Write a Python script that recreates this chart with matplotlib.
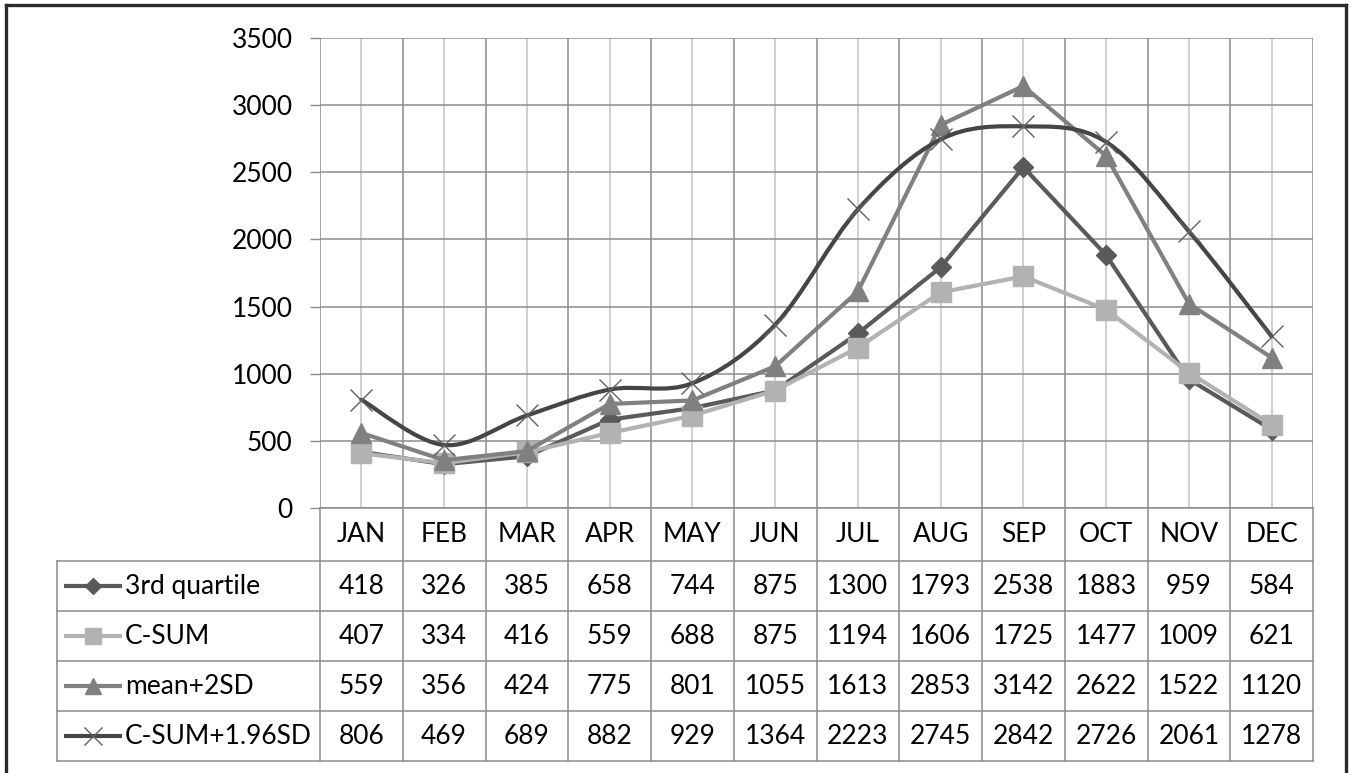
import matplotlib
matplotlib.use("Agg")
import matplotlib.pyplot as plt
from matplotlib.path import Path
from matplotlib.patches import PathPatch
from matplotlib.lines import Line2D
import numpy as np

plt.rcParams['font.family'] = ['Lato', 'DejaVu Sans']

months = ["JAN", "FEB", "MAR", "APR", "MAY", "JUN",
          "JUL", "AUG", "SEP", "OCT", "NOV", "DEC"]
third_quartile = [418, 326, 385, 658, 744, 875, 1300, 1793, 2538, 1883, 959, 584]
c_sum = [407, 334, 416, 559, 688, 875, 1194, 1606, 1725, 1477, 1009, 621]
mean_2sd = [559, 356, 424, 775, 801, 1055, 1613, 2853, 3142, 2622, 1522, 1120]
c_sum_196sd = [806, 469, 689, 882, 929, 1364, 2223, 2745, 2842, 2726, 2061, 1278]
series_names = ["3rd quartile", "C-SUM", "mean+2SD", "C-SUM+1.96SD"]
y_ticks = [0, 500, 1000, 1500, 2000, 2500, 3000, 3500]

W, H = 1349, 773
fig = plt.figure(figsize=(W / 100, H / 100), dpi=100)
fig.patch.set_facecolor("white")


def fx(px):
    return px / W


def fy(py):
    return 1 - py / H


PL, PR, PT, PB = 320, 1313, 38, 508
TB = 761
cat_w = (PR - PL) / 12.0
FS = 19

ax = fig.add_axes([fx(PL), fy(PB), (PR - PL) / W, (PB - PT) / H])
ax.set_xlim(-0.5, 11.5)
ax.set_ylim(0, 3500)
for s in ax.spines.values():
    s.set_visible(False)
ax.set_xticks([])
ax.set_yticks(y_ticks)
ax.set_yticklabels([str(v) for v in y_ticks], fontsize=FS)
ax.tick_params(axis="y", length=7.2, width=1, color="#8c8c8c", pad=12.5)
ax.yaxis.grid(True, color="#8c8c8c", lw=1.1)
ax.set_axisbelow(True)

x = np.arange(12)
# category boundaries (darker) and category centres (lighter)
for k in range(13):
    ax.axvline(k - 0.5, color="#8c8c8c", lw=1.1, zorder=0.5)
for k in range(12):
    ax.axvline(k, color="#c4c4c4", lw=1.1, zorder=0.4)

styles = [
    dict(color="#5a5a5a", marker="D", ms=10, mfc="#5a5a5a", mec="#5a5a5a", mew=1),
    dict(color="#b2b2b2", marker="s", ms=15, mfc="#b2b2b2", mec="#b2b2b2", mew=1),
    dict(color="#808080", marker="^", ms=15, mfc="#808080", mec="#808080", mew=1),
    dict(color="#454545", marker="x", ms=16, mfc="none", mec="#606060", mew=1.0),
]
data = [third_quartile, c_sum, mean_2sd, c_sum_196sd]


def smooth_path(xs, ys, t=1 / 6.0):
    pts = np.column_stack([xs, ys]).astype(float)
    n = len(pts)
    verts = [pts[0]]
    codes = [Path.MOVETO]
    for i in range(n - 1):
        p0 = pts[i - 1] if i > 0 else pts[i]
        p1 = pts[i]
        p2 = pts[i + 1]
        p3 = pts[i + 2] if i + 2 < n else pts[i + 1]
        c1 = p1 + (p2 - p0) * t
        c2 = p2 - (p3 - p1) * t
        verts += [c1, c2, p2]
        codes += [Path.CURVE4] * 3
    return Path(verts, codes)


LW = 3.0
for i, (vals, st) in enumerate(zip(data, styles)):
    z = 3 + i
    if i == 3:
        ax.add_patch(PathPatch(smooth_path(x, vals), fill=False,
                               edgecolor=st["color"], lw=LW, zorder=z,
                               capstyle="round", joinstyle="round"))
        ax.plot(x, vals, ls="none", marker=st["marker"], ms=st["ms"],
                mec=st["mec"], mew=st["mew"], zorder=z + 0.1)
    else:
        ax.plot(x, vals, color=st["color"], lw=LW, marker=st["marker"],
                ms=st["ms"], mfc=st["mfc"], mec=st["mec"], mew=st["mew"],
                zorder=z, solid_joinstyle="round")

# data table below the plot
tab = fig.add_axes([fx(PL), fy(TB), (PR - PL) / W, (TB - PB) / H])
tab.set_xlim(-0.5, 11.5)
tab.set_ylim(TB - PB, 0)
tab.axis("off")

rows = [0, 53, 103, 153, 203, 253]
xl = -0.5 - (PL - 57) / cat_w
gc = "#8c8c8c"
tab.plot([-0.5, 11.5], [0, 0], color=gc, lw=1.1, clip_on=False)
for ry in rows[1:]:
    tab.plot([xl, 11.5], [ry, ry], color=gc, lw=1.1, clip_on=False)
for k in range(13):
    tab.plot([k - 0.5, k - 0.5], [0, rows[-1]], color=gc, lw=1.1, clip_on=False)
tab.plot([xl, xl], [rows[1], rows[-1]], color=gc, lw=1.1, clip_on=False)

for k, m in enumerate(months):
    tab.text(k, (rows[0] + rows[1]) / 2, m, ha="center", va="center",
             fontsize=FS, color="black")

sx0 = -0.5 - (PL - 64) / cat_w
sx1 = -0.5 - (PL - 122) / cat_w
tx = -0.5 - (PL - 125) / cat_w
for r, (name, vals, st) in enumerate(zip(series_names, data, styles)):
    yc = (rows[r + 1] + rows[r + 2]) / 2
    tab.plot([sx0, sx1], [yc, yc], color=st["color"], lw=LW, clip_on=False,
             solid_capstyle="butt")
    tab.plot([(sx0 + sx1) / 2], [yc], ls="none", marker=st["marker"],
             ms=st["ms"] * 0.8, mfc=st["mfc"], mec=st["mec"], mew=st["mew"],
             clip_on=False)
    tab.text(tx, yc, name, ha="left", va="center", fontsize=FS, color="black",
             clip_on=False)
    for k, v in enumerate(vals):
        tab.text(k, yc, str(v), ha="center", va="center", fontsize=FS,
                 color="black")

# outer frame (open at the bottom)
fc = "#2a2a2a"
fig.add_artist(Line2D([fx(6), fx(6)], [fy(5), 0], color=fc, lw=2.4,
                      transform=fig.transFigure))
fig.add_artist(Line2D([fx(6), fx(1346)], [fy(5), fy(5)], color=fc, lw=2.4,
                      transform=fig.transFigure))
fig.add_artist(Line2D([fx(1346), fx(1346)], [fy(5), 0], color=fc, lw=2.4,
                      transform=fig.transFigure))

fig.savefig("out.png", dpi=100, facecolor="white")
